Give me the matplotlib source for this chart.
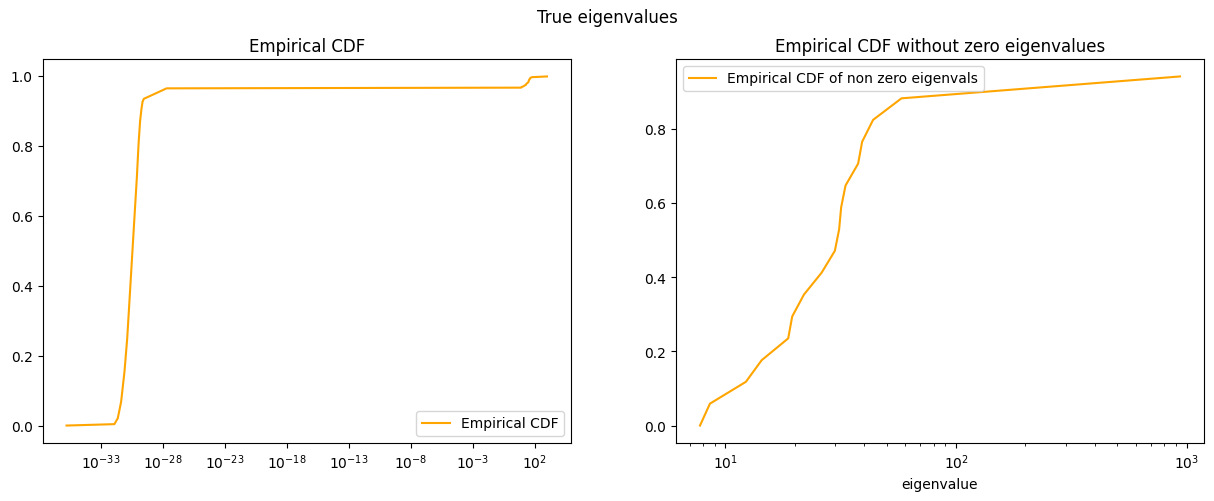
import matplotlib
matplotlib.use("Agg")
import matplotlib.pyplot as plt
import matplotlib.ticker as mticker

# "zero" (numerically tiny) eigenvalues and their ECDF levels
zero_eigs = [1.6e-36, 1.17e-32, 2.19e-32, 4.07e-32, 7.59e-32, 1.26e-31, 1.82e-31,
             2.63e-31, 3.80e-31, 5.50e-31, 7.59e-31, 1.05e-30, 1.38e-30, 1.78e-30,
             2.19e-30, 2.75e-30, 1.9e-28]
zero_cdf = [0.0, 0.004, 0.021, 0.068, 0.154, 0.249, 0.343,
            0.438, 0.533, 0.628, 0.710, 0.808, 0.870, 0.905,
            0.926, 0.934, 0.964]

# non zero eigenvalues
nonzero_eigs = [7.77, 8.58, 12.29, 14.37, 18.74, 19.50, 21.92, 26.15, 29.85,
                31.15, 31.78, 33.20, 37.65, 39.19, 43.72, 58.02, 935.0]
nonzero_cdf_all = [0.966, 0.968, 0.970, 0.972, 0.974, 0.976, 0.978, 0.980, 0.982,
                   0.984, 0.986, 0.988, 0.990, 0.992, 0.994, 0.996, 0.998]
nonzero_cdf = [0.0, 0.059, 0.118, 0.176, 0.235, 0.294, 0.353, 0.412, 0.471,
               0.529, 0.588, 0.647, 0.706, 0.765, 0.824, 0.882, 0.941]

# tick decades shown on the left panel
left_ticks = [1e-33, 1e-28, 1e-23, 1e-18, 1e-13, 1e-8, 1e-3, 1e2]

W, H = 1214, 502
fig = plt.figure(figsize=(W / 100, H / 100), dpi=100)
ax1 = fig.add_axes([42.5 / W, (H - 444) / H, 528.5 / W, 384 / H])
ax2 = fig.add_axes([676 / W, (H - 444) / H, 528 / W, 384 / H])

ax1.plot(zero_eigs + nonzero_eigs, zero_cdf + nonzero_cdf_all,
         color="orange", label="Empirical CDF")
ax1.set_xscale("log")
ax1.xaxis.set_major_locator(mticker.FixedLocator(left_ticks))
ax1.xaxis.set_minor_locator(mticker.NullLocator())
ax1.set_title("Empirical CDF")
ax1.legend(loc="lower right")

ax2.plot(nonzero_eigs, nonzero_cdf, color="orange",
         label="Empirical CDF of non zero eigenvals")
ax2.set_xscale("log")
ax2.set_title("Empirical CDF without zero eigenvalues")
ax2.set_xlabel("eigenvalue")
ax2.legend(loc="upper left")

fig.suptitle("True eigenvalues", y=1 - 9 / H)

fig.savefig("out.png", dpi=100)
